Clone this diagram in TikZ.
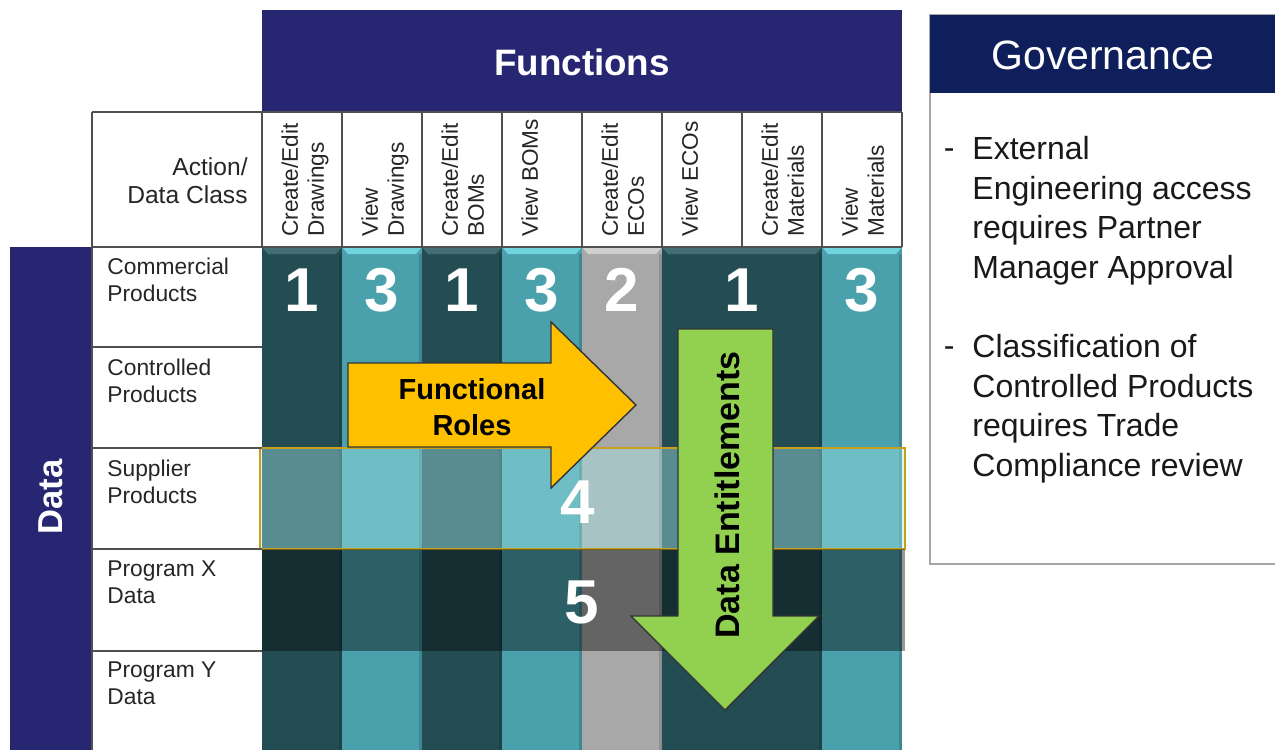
\documentclass[tikz,border=0pt]{standalone}
\usepackage{fontspec}
\setmainfont{Liberation Sans}
\usetikzlibrary{positioning}
\definecolor{funcnavy}{RGB}{38,38,114}
\definecolor{govnavy}{RGB}{15,31,92}
\definecolor{darkteal}{RGB}{36,77,83}
\definecolor{lightteal}{RGB}{74,160,171}
\definecolor{greybar}{RGB}{168,168,168}
\definecolor{darkbevel}{RGB}{66,110,116}
\definecolor{lightbevel}{RGB}{112,212,222}
\definecolor{greybevel}{RGB}{208,208,208}
\definecolor{roleyellow}{RGB}{255,192,0}
\definecolor{entgreen}{RGB}{146,208,80}
\definecolor{overlaymint}{RGB}{170,236,236}
\definecolor{overlayedge}{RGB}{200,160,30}
\definecolor{gridline}{RGB}{80,80,80}
\tikzset{headtext/.style={font=\bfseries\fontsize{18.4}{22}\selectfont, text=white},
colhead/.style={rotate=90, anchor=north west, inner sep=0pt, align=left, font=\fontsize{11.3}{13}\selectfont, text=black!85},
rowhead/.style={anchor=north west, inner sep=0pt, align=left, font=\fontsize{11.4}{13.5}\selectfont, text=black!85},
bignum/.style={font=\bfseries\fontsize{31}{31}\selectfont, text=white, inner sep=0pt},
bigarrow/.style={draw=black!80, line width=0.7pt, line join=miter},
arrowtext/.style={font=\bfseries\fontsize{14.5}{18}\selectfont, align=center, inner sep=0pt},
%text of the governance box
govtext/.style={anchor=north west, inner sep=0pt, align=left, font=\fontsize{16}{19.75}\selectfont, text=black!90}}

\begin{document}
\begin{tikzpicture}[x=0.5pt, y=-0.5pt]
        \useasboundingbox (0,0) rectangle (1275,750);
        \fill[funcnavy] (262,10) rectangle (902,112);
        \node[headtext] (functions) at (582,62) {Functions};
        \fill[funcnavy] (10,247) rectangle (92,750);
        \node[headtext, rotate=90, font=\bfseries\fontsize{17.3}{20}\selectfont] (data) at (51,497) {Data};
        \foreach \xl/\xr/\col/\bev/\val [count=\i] in {262/342/darkteal/darkbevel/1, 342/422/lightteal/lightbevel/3, 422/502/darkteal/darkbevel/1, 502/582/lightteal/lightbevel/3, 582/662/greybar/greybevel/2, 662/822/darkteal/darkbevel/1, 822/902/lightteal/lightbevel/3}{
          \fill[\col] (\xl,247) rectangle (\xr,750);
          \fill[\bev] (\xl,247) -- (\xr,247) -- (\xr-6,254) -- (\xl+6,254) -- cycle;
          \fill[black, opacity=0.15] (\xr-3,254) rectangle (\xr,750);
          \node[bignum] (num\i) at ({(\xl+\xr)/2},290) {\val};
        }
        \filldraw[fill=overlaymint, fill opacity=0.4, draw=overlayedge, line width=0.6pt] (260,448) rectangle (905,549);
        \fill[black, fill opacity=0.4] (262,549) rectangle (905,651);
        \draw[gridline, line width=0.8pt] (92,112) -- (902,112);
        \draw[gridline, line width=0.8pt] (92,247) -- (902,247);
        \draw[gridline, line width=0.8pt] (92,112) -- (92,750);
        \foreach \x in {262,342,...,902}{
          \draw[gridline, line width=0.8pt] (\x,112) -- (\x,247);
        }
        \foreach \y in {347,448,549,651}{
          \draw[gridline, line width=0.9pt] (92,\y) -- (262,\y);
        }
        \node[anchor=north east, inner sep=0pt, align=right, font=\fontsize{12.3}{14.2}\selectfont, text=black!85] (actionhead) at (248,157) {Action/\\Data Class};
        \foreach \lbl [count=\i from 0] in {{Create/Edit\\Drawings}, {View\\Drawings}, {Create/Edit\\BOMs}, {View BOMs}, {Create/Edit\\ECOs}, {View ECOs}, {Create/Edit\\Materials}, {View\\Materials}}{
          \node[colhead] (col\i) at (281+80*\i,237) {\lbl};
        }
        \foreach \lbl [count=\i from 0] in {{Commercial\\Products}, {Controlled\\Products}, {Supplier\\Products}, {Program X\\Data}, {Program Y\\Data}}{
          \node[rowhead] (row\i) at (107,258+100.8*\i) {\lbl};
        }
        \node[bignum] (bandfour) at (578,502) {4};
        \node[bignum] (bandfive) at (582,602) {5};
        \filldraw[bigarrow, fill=roleyellow] (348,363) -- (551,363) -- (551,322) -- (636,405) -- (551,488) -- (551,447) -- (348,447) -- cycle;
        \node[arrowtext] (roles) at (472,407) {Functional\\Roles};
        \filldraw[bigarrow, fill=entgreen] (678,329) -- (773,329) -- (773,616) -- (819,616) -- (725,710) -- (631,616) -- (678,616) -- cycle;
        \node[arrowtext, rotate=90, font=\bfseries\fontsize{17}{20}\selectfont] (entitle) at (727,495) {Data Entitlements};
        \filldraw[draw=gray!70, fill=white, line width=0.8pt] (930,15) rectangle (1285,564);
        \fill[govnavy] (930,15) rectangle (1285,93);
        \node[text=white, font=\fontsize{20.5}{24}\selectfont] (govhead) at (1103,55) {Governance};
        \node[govtext] (ruleone) at (972,136) {External\\Engineering access\\requires Partner\\Manager Approval};
        \node[govtext] (ruletwo) at (972,334) {Classification of\\Controlled Products\\requires Trade\\Compliance review};
        \node[govtext, left=8.5pt of ruleone.north west, anchor=north east] (dashone) {\vphantom{E}-};
        \node[govtext, left=8.5pt of ruletwo.north west, anchor=north east] (dashtwo) {\vphantom{E}-};
      \end{tikzpicture}
\end{document}
